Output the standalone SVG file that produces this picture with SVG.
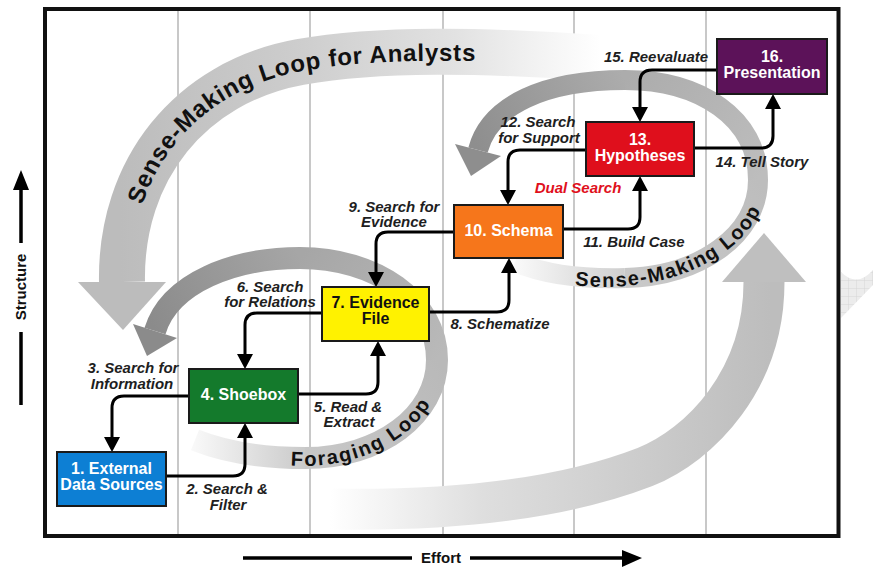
<svg xmlns="http://www.w3.org/2000/svg" width="873" height="568" viewBox="0 0 873 568">
<defs>
<style>
.lbl{font-family:"Liberation Sans",Arial,sans-serif;font-weight:bold;font-style:italic;font-size:15px;fill:#1e1e1e;text-anchor:middle}
.nt{font-family:"Liberation Sans",Arial,sans-serif;font-weight:bold;font-size:16px;fill:#ffffff;text-anchor:middle}
.box{stroke:#1a1a1a;stroke-width:2}
.con{fill:none;stroke:#000;stroke-width:3;marker-end:url(#ah)}
.lt{font-family:"Liberation Sans",Arial,sans-serif;font-weight:bold;fill:#111}
.grid{stroke:#c8c8c8;stroke-width:2}
.ax{stroke:#000;stroke-width:3.5;fill:none}
.axt{font-family:"Liberation Sans",Arial,sans-serif;font-weight:bold;font-size:15px;fill:#111}
</style>
<marker id="ah" markerUnits="userSpaceOnUse" markerWidth="16" markerHeight="16" viewBox="0 0 16 16" refX="0" refY="8" orient="auto"><path d="M0,0 L15,8 L0,16 z" fill="#000"/></marker>
<linearGradient id="gBig" gradientUnits="userSpaceOnUse" x1="600" y1="0" x2="120" y2="0"><stop offset="0" stop-color="#ffffff"/><stop offset="0.3" stop-color="#e2e2e2"/><stop offset="0.65" stop-color="#cccccc"/><stop offset="1" stop-color="#bcbcbc"/></linearGradient>
<linearGradient id="gBot" gradientUnits="userSpaceOnUse" x1="330" y1="0" x2="770" y2="0"><stop offset="0" stop-color="#ffffff"/><stop offset="0.35" stop-color="#dedede"/><stop offset="1" stop-color="#bdbdbd"/></linearGradient>
<linearGradient id="gSA" gradientUnits="userSpaceOnUse" x1="512" y1="0" x2="640" y2="0"><stop offset="0" stop-color="#fbfbfb"/><stop offset="1" stop-color="#c9c9c9"/></linearGradient>
<linearGradient id="gSB" gradientUnits="userSpaceOnUse" x1="625" y1="278" x2="758" y2="180"><stop offset="0" stop-color="#c9c9c9"/><stop offset="1" stop-color="#bdbdbd"/></linearGradient>
<linearGradient id="gSC" gradientUnits="userSpaceOnUse" x1="758" y1="180" x2="625" y2="80"><stop offset="0" stop-color="#bdbdbd"/><stop offset="1" stop-color="#acacac"/></linearGradient>
<linearGradient id="gSD" gradientUnits="userSpaceOnUse" x1="625" y1="80" x2="478" y2="150"><stop offset="0" stop-color="#acacac"/><stop offset="1" stop-color="#8e8e8e"/></linearGradient>
<linearGradient id="gFA" gradientUnits="userSpaceOnUse" x1="190" y1="0" x2="310" y2="0"><stop offset="0" stop-color="#fafafa"/><stop offset="1" stop-color="#c8c8c8"/></linearGradient>
<linearGradient id="gFB" gradientUnits="userSpaceOnUse" x1="305" y1="458" x2="437" y2="360"><stop offset="0" stop-color="#c8c8c8"/><stop offset="1" stop-color="#b9b9b9"/></linearGradient>
<linearGradient id="gFC" gradientUnits="userSpaceOnUse" x1="437" y1="360" x2="300" y2="258"><stop offset="0" stop-color="#b9b9b9"/><stop offset="1" stop-color="#a6a6a6"/></linearGradient>
<linearGradient id="gFD" gradientUnits="userSpaceOnUse" x1="300" y1="258" x2="155" y2="331"><stop offset="0" stop-color="#a6a6a6"/><stop offset="1" stop-color="#8b8b8b"/></linearGradient>
<pattern id="chk" patternUnits="userSpaceOnUse" width="8" height="8"><rect width="8" height="8" fill="#ececec"/><path d="M0,0 H8 M0,0 V8" stroke="#d6d6d6" stroke-width="1"/></pattern>
<path id="tpBig" d="M132,282 C129,172 196,91 302,71 C381,57 480,59 600,67"/>
<path id="tpS" d="M575,285.1 A163,109 0 0,0 765.5,196.9"/>
<path id="tpF" d="M290.6,465.4 A138,106 0 0,0 436.2,392.8"/>
</defs>
<rect width="873" height="568" fill="#ffffff"/>
<path d="M841,272 Q857,288 873,270 L873,285 L841,318 Z" fill="url(#chk)"/>
<g id="grid">
<line class="grid" x1="178" y1="11" x2="178" y2="534"/>
<line class="grid" x1="310" y1="11" x2="310" y2="534"/>
<line class="grid" x1="443" y1="11" x2="443" y2="534"/>
<line class="grid" x1="574" y1="11" x2="574" y2="534"/>
<line class="grid" x1="706" y1="11" x2="706" y2="534"/>
</g>
<g id="loops">
<path d="M600,58 C480,50 380,48 300,62 C190,82 120,170 122,282" fill="none" stroke="url(#gBig)" stroke-width="46"/>
<polygon points="78,282 166,282 123,330" fill="#bcbcbc"/>
<path d="M330,509 C450,511 560,500 645,467 C700,445 764,380 764,282" fill="none" stroke="url(#gBot)" stroke-width="41"/>
<polygon points="722,282 806,282 764,233" fill="#bfbfbf"/>
<path d="M195,440 C225,452 262,458 305,458" fill="none" stroke="url(#gFA)" stroke-width="22"/>
<path d="M305,458 C380,458 437,415 437,360" fill="none" stroke="url(#gFB)" stroke-width="22"/>
<path d="M437,360 C437,300 375,258 300,258" fill="none" stroke="url(#gFC)" stroke-width="22"/>
<path d="M300,258 C235,258 170,282 155,331" fill="none" stroke="url(#gFD)" stroke-width="22"/>
<polygon points="133,324 177,338 147,356" fill="#8b8b8b"/>
<path d="M515,262 C548,276 588,279 625,278" fill="none" stroke="url(#gSA)" stroke-width="20"/>
<path d="M625,278 C700,276 758,235 758,180" fill="none" stroke="url(#gSB)" stroke-width="20"/>
<path d="M758,180 C758,118 700,80 625,80" fill="none" stroke="url(#gSC)" stroke-width="20"/>
<path d="M625,80 C545,80 490,105 478,150" fill="none" stroke="url(#gSD)" stroke-width="20"/>
<polygon points="455,144 501,156 471,176" fill="#8e8e8e"/>
<text class="lt" font-size="24"><textPath href="#tpBig" startOffset="78" textLength="393" lengthAdjust="spacing">Sense-Making Loop for Analysts</textPath></text>
<text class="lt" font-size="20"><textPath href="#tpS" textLength="212" lengthAdjust="spacing">Sense-Making Loop</textPath></text>
<text class="lt" font-size="20"><textPath href="#tpF" textLength="160" lengthAdjust="spacing">Foraging Loop</textPath></text>
</g>
<rect x="45" y="9" width="793.5" height="527" fill="none" stroke="#111" stroke-width="4"/>
<g id="connectors">
<path class="con" d="M166,476 H233 Q245,476 245,464 V438"/>
<path class="con" d="M189,396 H124 Q112,396 112,408 V437"/>
<path class="con" d="M298,394 H366 Q378,394 378,382 V356"/>
<path class="con" d="M322,313 H257 Q245,313 245,325 V354"/>
<path class="con" d="M429,312 H497 Q509,312 509,300 V273"/>
<path class="con" d="M454,232 H388 Q376,232 376,244 V272"/>
<path class="con" d="M563,229 H628 Q640,229 640,217 V191"/>
<path class="con" d="M586,150 H520 Q508,150 508,162 V190"/>
<path class="con" d="M694,148 H761 Q773,148 773,136 V109"/>
<path class="con" d="M717,70 H652 Q640,70 640,82 V107"/>
</g>
<g id="n1"><rect class="box" x="57" y="452" width="109" height="54" fill="#0d7fd4"/><text class="nt" x="111.5" y="474">1. External</text><text class="nt" x="111.5" y="490">Data Sources</text></g>
<g id="n4"><rect class="box" x="189" y="369" width="109" height="54" fill="#147a2c"/><text class="nt" x="243.5" y="400">4. Shoebox</text></g>
<g id="n7"><rect class="box" x="322" y="287" width="107" height="54" fill="#fff200"/><text class="nt" x="375.5" y="308" style="fill:#111">7. Evidence</text><text class="nt" x="375.5" y="324" style="fill:#111">File</text></g>
<g id="n10"><rect class="box" x="454" y="205" width="109" height="53" fill="#f6761b"/><text class="nt" x="508.5" y="236">10. Schema</text></g>
<g id="n13"><rect class="box" x="586" y="122" width="108" height="54" fill="#df0f1c"/><text class="nt" x="640" y="145">13.</text><text class="nt" x="640" y="161">Hypotheses</text></g>
<g id="n16"><rect class="box" x="717" y="39" width="110" height="55" fill="#5c1259"/><text class="nt" x="772" y="62">16.</text><text class="nt" x="772" y="78">Presentation</text></g>
<g id="labels">
<text class="lbl" x="227" y="494">2. Search &amp;</text><text class="lbl" x="228" y="510">Filter</text>
<text class="lbl" x="133" y="373">3. Search for</text><text class="lbl" x="132" y="389">Information</text>
<text class="lbl" x="348" y="412">5. Read &amp;</text><text class="lbl" x="349" y="427">Extract</text>
<text class="lbl" x="270" y="292">6. Search</text><text class="lbl" x="270" y="307">for Relations</text>
<text class="lbl" x="500" y="329">8. Schematize</text>
<text class="lbl" x="394" y="212">9. Search for</text><text class="lbl" x="394" y="227">Evidence</text>
<text class="lbl" x="634" y="247">11. Build Case</text>
<text class="lbl" x="538" y="127">12. Search</text><text class="lbl" x="539" y="143">for Support</text>
<text class="lbl" x="578" y="193" style="fill:#e0101c">Dual Search</text>
<text class="lbl" x="762" y="167">14. Tell Story</text>
<text class="lbl" x="656" y="62">15. Reevaluate</text>
</g>
<g id="axes">
<path class="ax" d="M21,243 V189"/>
<polygon points="13,190 21,170 29,190" fill="#000"/>
<text class="axt" transform="translate(25.5,287) rotate(-90)" text-anchor="middle">Structure</text>
<path class="ax" d="M21,332 V405"/>
<path class="ax" d="M243,558 H412"/>
<text class="axt" x="441" y="563" text-anchor="middle">Effort</text>
<path class="ax" d="M470,558 H623"/>
<polygon points="622,550 642,558 622,567" fill="#000"/>
</g>
</svg>
